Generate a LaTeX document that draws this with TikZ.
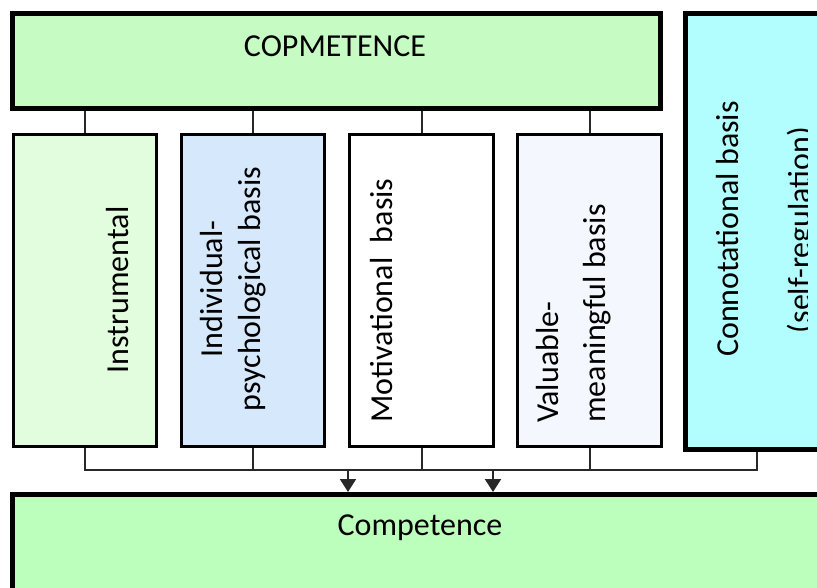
\documentclass[tikz,border=0pt]{standalone}
\usepackage{fontspec}
\setmainfont{Carlito}
\usetikzlibrary{arrows.meta}
\definecolor{topfill}{RGB}{198,252,196}
\definecolor{instfill}{RGB}{226,252,222}
\definecolor{indfill}{RGB}{214,233,252}
\definecolor{valfill}{RGB}{244,248,254}
\definecolor{confill}{RGB}{178,254,254}
\definecolor{compfill}{RGB}{188,254,188}
\definecolor{connc}{RGB}{40,40,40}
\tikzset{
  bigbox/.style={draw=black, line width=5pt, rectangle, inner sep=0pt},
  colbox/.style={draw=black, line width=3pt, rectangle, inner sep=0pt,
                 minimum width=143.5pt, minimum height=311.5pt},
  txt/.style={inner sep=0pt, font=\fontsize{32}{38}\selectfont},
  vtxt/.style={txt, rotate=90},
  conn/.style={draw=connc, line width=2pt},
  arr/.style={conn, -{Triangle[width=16pt,length=13pt]}, fill=black}
}
\begin{document}
\begin{tikzpicture}[x=1pt,y=-1pt]
\useasboundingbox (0,0) rectangle (817,588);
\clip (0,0) rectangle (817,588);
\fill[white] (0,0) rectangle (817,588);

% top box
\node[bigbox, fill=topfill, minimum width=648pt, minimum height=95pt] (top) at (336.5,61.5) {};
\node[txt, anchor=base] (ttop) at (335,57) {COPMETENCE};

% column boxes
\node[colbox, fill=instfill] (c1) at (85,290.75) {};
\node[colbox, fill=indfill] (c2) at (253,290.75) {};
\node[colbox, fill=white] (c3) at (421.5,290.75) {};
\node[colbox, fill=valfill] (c4) at (589.5,290.75) {};

% connotational box
\node[bigbox, fill=confill, minimum width=144pt, minimum height=435pt] (c5) at (757,231.5) {};

% competence box
\node[bigbox, fill=compfill, minimum width=816.5pt, minimum height=120pt] (comp) at (420.75,554.5) {};
\node[txt, anchor=base] (tcomp) at (420,535) {Competence};

% column texts
\node[vtxt, anchor=base] (t1) at (128,290) {Instrumental};
\node[vtxt, anchor=base] (t2a) at (222,289) {Individual-};
\node[vtxt, anchor=base] (t2b) at (260,289) {psychological basis};
\node[vtxt, anchor=base west] (t3) at (392,423) {Motivational~ basis};
\node[vtxt, anchor=base west] (t4a) at (558,423) {Valuable-};
\node[vtxt, anchor=base west] (t4b) at (605,423) {meaningful basis};
\node[vtxt, anchor=base] (t5a) at (738,229) {Connotational basis};
\begin{scope}
\clip (690,20) rectangle (807,440);
\node[vtxt, anchor=base] (t5b) at (810,230) {(self-regulation)};
\end{scope}

% top connectors
\foreach \c in {c1,c2,c3,c4}{
  \draw[conn] (\c.north |- top.south) -- (\c.north);
}

% bottom bus
\coordinate (bus) at (0,470);
\draw[conn] (c1.south) -- (c1.south |- bus) -- (c5.south |- bus) -- (c5.south);
\foreach \c in {c2,c3,c4}{
  \draw[conn] (\c.south) -- (\c.south |- bus);
}
\coordinate (a1) at (348,470);
\coordinate (a2) at (493,470);
\draw[arr] (a1) -- (a1 |- comp.north);
\draw[arr] (a2) -- (a2 |- comp.north);
\end{tikzpicture}
\end{document}
